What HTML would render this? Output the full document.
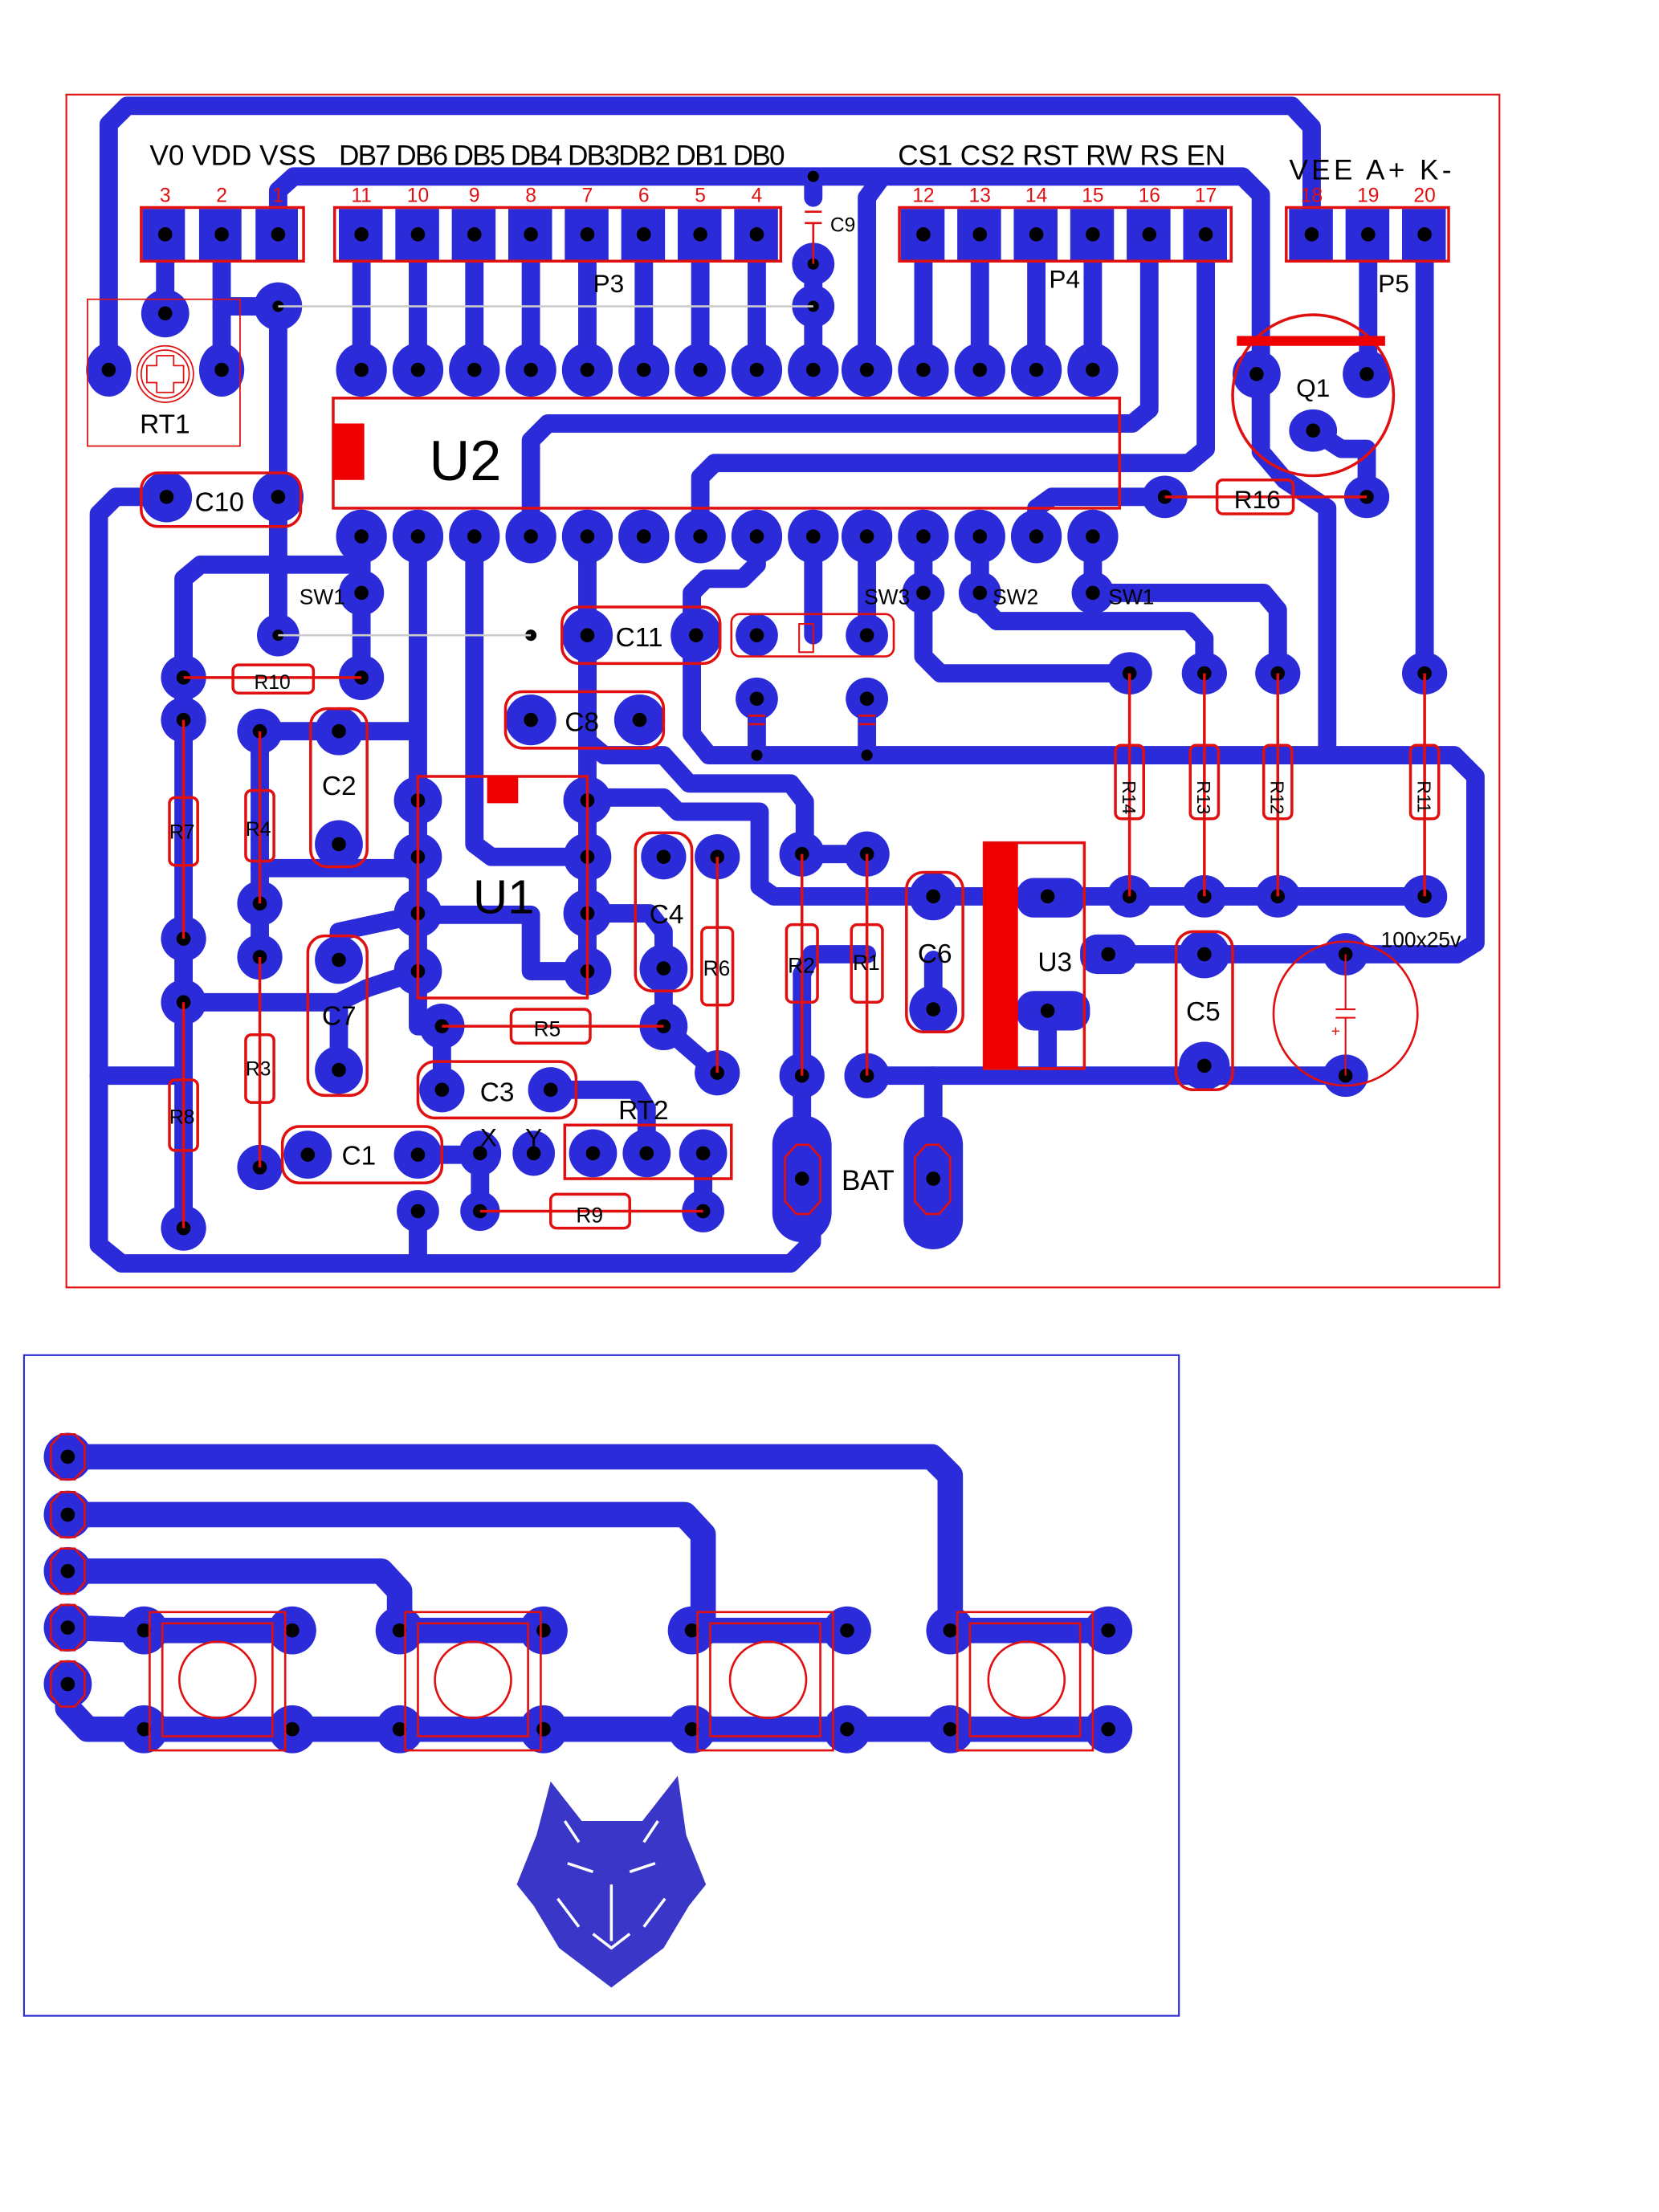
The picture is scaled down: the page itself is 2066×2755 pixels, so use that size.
<!DOCTYPE html>
<html><head><meta charset="utf-8"><style>
html,body{margin:0;padding:0;background:#fff}
svg{display:block}
text{font-family:"Liberation Sans",sans-serif}
</style></head><body>
<svg width="2066" height="2755" viewBox="0 0 1175 1567" preserveAspectRatio="none" xmlns="http://www.w3.org/2000/svg">
<rect x="0" y="0" width="1175" height="1567" fill="#fff"/>
<rect x="47" y="67" width="1015" height="845" fill="none" stroke="#e01010" stroke-width="1.2"/>
<rect x="17" y="960" width="818" height="468" fill="none" stroke="#2a2ad0" stroke-width="1.2"/>

<g fill="none" stroke="#2b2bd9" stroke-width="13" stroke-linejoin="round" stroke-linecap="round">
 <polyline points="77,262 77,88 90,75 915,75 929,90 929,165"/>
 <polyline points="197,165 197,135 208,125 880,125 893,138 893,320 910,340 940,360 940,535"/>
 <polyline points="614,262 614,140 625,125"/>
 <polyline points="576,125 576,140"/>
 <polyline points="117,165 117,222"/>
 <polyline points="157,165 157,262"/>
 <polyline points="197,217 197,450"/>
 <polyline points="157,217 197,217"/>
 <polyline points="256,165 256,262"/><polyline points="296,165 296,262"/><polyline points="336,165 336,262"/><polyline points="376,165 376,262"/>
 <polyline points="416,165 416,262"/><polyline points="456,165 456,262"/><polyline points="496,165 496,262"/><polyline points="536,165 536,262"/>
 <polyline points="576,187 576,262"/>
 <polyline points="654,165 654,262"/><polyline points="694,165 694,262"/><polyline points="734,165 734,262"/><polyline points="774,165 774,262"/>
 <polyline points="814,165 814,290 802,300 388,300 376,312 376,380"/>
 <polyline points="854,165 854,318 842,328 506,328 496,338 496,380"/>
 <polyline points="969,165 969,265"/>
 <polyline points="1009,165 1009,477"/>
 <polyline points="930,305 950,318 968,318 968,352"/>
 <polyline points="734,380 734,360 745,352 825,352"/>
 <polyline points="118,352 82,352 70,364 70,882 86,895 560,895 575,880 575,800"/>
 <polyline points="296,858 296,895"/>
 <polyline points="130,480 130,410 142,400 256,400"/>
 <polyline points="256,380 256,480"/>
 <polyline points="130,480 130,870"/>
 <polyline points="70,762 130,762"/>
 <polyline points="130,710 240,710"/>
 <polyline points="296,380 296,607"/>
 <polyline points="184,518 290,518"/>
 <polyline points="336,380 336,598 348,607 416,607"/>
 <polyline points="416,380 416,525 428,535 470,535 488,555 560,555 570,568 570,605"/>
 <polyline points="536,380 536,400 526,410 500,410 490,420 490,520 502,535 1030,535 1045,550 1045,668 1032,676 785,676"/>
 <polyline points="576,380 576,450"/>
 <polyline points="614,380 614,450"/>
 <polyline points="654,380 654,465 666,477 800,477"/>
 <polyline points="694,380 694,428 706,440 842,440 853,452 853,477"/>
 <polyline points="774,380 774,420 895,420 905,432 905,477"/>
 <polyline points="536,495 536,535"/><polyline points="614,495 614,535"/>
 <polyline points="416,450 416,565"/>
 <polyline points="742,635 1009,635"/>
 <polyline points="661,635 742,635"/>
 <polyline points="416,565 470,565 480,575 538,575 538,628 548,635 661,635"/>
 <polyline points="568,605 614,605"/>
 <polyline points="742,716 742,757"/>
 <polyline points="614,762 953,762"/>
 <polyline points="661,762 661,790"/>
 <polyline points="568,690 568,835"/>
 <polyline points="568,690 575,676 614,676"/>
 <polyline points="661,715 661,680"/>
 <polyline points="184,518 184,678"/>
 <polyline points="184,615 296,615"/>
 <polyline points="240,680 240,660 296,648"/>
 <polyline points="296,648 376,648 376,688 416,688"/>
 <polyline points="416,647 460,647 470,660 470,727"/>
 <polyline points="470,727 508,760"/>
 <polyline points="296,688 260,700 240,710 240,758"/>
 <polyline points="296,688 296,727 313,727"/>
 <polyline points="313,727 313,772"/>
 <polyline points="390,772 450,772 458,785 458,817"/>
 <polyline points="296,818 340,818 340,858"/>
 <polyline points="498,817 498,858"/>
 <polyline points="416,567 416,688"/>
 <polyline points="296,567 296,700"/>
</g>
<g fill="#2b2bd9">
 <rect x="547" y="790" width="42" height="90" rx="21"/>
 <rect x="640" y="790" width="42" height="95" rx="21"/>
 <rect x="720" y="622" width="48" height="28" rx="12"/>
 <rect x="720" y="702" width="52" height="28" rx="12"/>
 <rect x="765" y="662" width="40" height="28" rx="12"/>
</g>
<g fill="#2b2bd9">
 <rect x="101" y="148" width="30" height="36"/><rect x="141" y="148" width="30" height="36"/><rect x="181" y="148" width="30" height="36"/>
 <rect x="240" y="148" width="31" height="36"/><rect x="280" y="148" width="31" height="36"/><rect x="320" y="148" width="31" height="36"/><rect x="360" y="148" width="31" height="36"/>
 <rect x="400" y="148" width="31" height="36"/><rect x="440" y="148" width="31" height="36"/><rect x="480" y="148" width="31" height="36"/><rect x="520" y="148" width="31" height="36"/>
 <rect x="638" y="148" width="31" height="36"/><rect x="678" y="148" width="31" height="36"/><rect x="718" y="148" width="31" height="36"/><rect x="758" y="148" width="31" height="36"/><rect x="798" y="148" width="31" height="36"/><rect x="838" y="148" width="31" height="36"/>
 <rect x="913" y="148" width="31" height="36"/><rect x="953" y="148" width="31" height="36"/><rect x="993" y="148" width="31" height="36"/>
</g>
<g fill="#2b2bd9">
 <ellipse cx="117" cy="222" rx="17" ry="17"/><ellipse cx="77" cy="262" rx="16" ry="19"/><ellipse cx="157" cy="262" rx="16" ry="19"/>
 <ellipse cx="197" cy="217" rx="17" ry="17"/><ellipse cx="576" cy="187" rx="15" ry="15"/><ellipse cx="576" cy="217" rx="15" ry="15"/>
 <g id="row1">
 <ellipse cx="256" cy="262" rx="18" ry="19"/><ellipse cx="296" cy="262" rx="18" ry="19"/><ellipse cx="336" cy="262" rx="18" ry="19"/><ellipse cx="376" cy="262" rx="18" ry="19"/>
 <ellipse cx="416" cy="262" rx="18" ry="19"/><ellipse cx="456" cy="262" rx="18" ry="19"/><ellipse cx="496" cy="262" rx="18" ry="19"/><ellipse cx="536" cy="262" rx="18" ry="19"/>
 <ellipse cx="576" cy="262" rx="18" ry="19"/><ellipse cx="614" cy="262" rx="18" ry="19"/><ellipse cx="654" cy="262" rx="18" ry="19"/><ellipse cx="694" cy="262" rx="18" ry="19"/>
 <ellipse cx="734" cy="262" rx="18" ry="19"/><ellipse cx="774" cy="262" rx="18" ry="19"/>
 </g>
 <use href="#row1" y="118"/>
 <ellipse cx="890" cy="265" rx="17" ry="17"/><ellipse cx="968" cy="265" rx="17" ry="17"/><ellipse cx="930" cy="305" rx="17" ry="15"/>
 <ellipse cx="825" cy="352" rx="16" ry="15"/><ellipse cx="968" cy="352" rx="16" ry="15"/>
 <ellipse cx="118" cy="352" rx="18" ry="18"/><ellipse cx="197" cy="352" rx="18" ry="18"/>
 <ellipse cx="256" cy="420" rx="16" ry="16"/><ellipse cx="654" cy="420" rx="15" ry="15"/><ellipse cx="694" cy="420" rx="15" ry="15"/><ellipse cx="774" cy="420" rx="15" ry="15"/>
 <ellipse cx="197" cy="450" rx="15" ry="15"/>
 <ellipse cx="416" cy="450" rx="18" ry="19"/><ellipse cx="493" cy="450" rx="18" ry="19"/>
 <ellipse cx="536" cy="450" rx="15" ry="15"/><ellipse cx="614" cy="450" rx="15" ry="15"/><ellipse cx="536" cy="495" rx="15" ry="15"/><ellipse cx="614" cy="495" rx="15" ry="15"/>
 <ellipse cx="376" cy="510" rx="18" ry="18"/><ellipse cx="453" cy="510" rx="18" ry="18"/>
 <ellipse cx="130" cy="480" rx="16" ry="16"/><ellipse cx="130" cy="510" rx="16" ry="16"/><ellipse cx="256" cy="480" rx="16" ry="16"/>
 <ellipse cx="800" cy="477" rx="16" ry="15"/><ellipse cx="853" cy="477" rx="16" ry="15"/><ellipse cx="905" cy="477" rx="16" ry="15"/><ellipse cx="1009" cy="477" rx="16" ry="15"/>
 <ellipse cx="184" cy="518" rx="16" ry="16"/><ellipse cx="240" cy="518" rx="17" ry="17"/><ellipse cx="240" cy="598" rx="17" ry="17"/>
 <ellipse cx="296" cy="567" rx="17" ry="17"/><ellipse cx="296" cy="607" rx="17" ry="17"/><ellipse cx="296" cy="647" rx="17" ry="17"/><ellipse cx="296" cy="688" rx="17" ry="17"/>
 <ellipse cx="416" cy="567" rx="17" ry="17"/><ellipse cx="416" cy="607" rx="17" ry="17"/><ellipse cx="416" cy="647" rx="17" ry="17"/><ellipse cx="416" cy="688" rx="17" ry="17"/>
 <ellipse cx="470" cy="607" rx="16" ry="16"/><ellipse cx="508" cy="607" rx="16" ry="16"/><ellipse cx="470" cy="686" rx="17" ry="17"/><ellipse cx="470" cy="727" rx="17" ry="17"/><ellipse cx="508" cy="760" rx="16" ry="16"/>
 <ellipse cx="568" cy="605" rx="16" ry="16"/><ellipse cx="614" cy="605" rx="16" ry="16"/>
 <ellipse cx="661" cy="635" rx="17" ry="17"/><ellipse cx="661" cy="715" rx="17" ry="17"/>
 <ellipse cx="800" cy="635" rx="16" ry="15"/><ellipse cx="853" cy="635" rx="16" ry="15"/><ellipse cx="905" cy="635" rx="16" ry="15"/><ellipse cx="1009" cy="635" rx="16" ry="15"/>
 <ellipse cx="853" cy="676" rx="18" ry="17"/><ellipse cx="853" cy="755" rx="18" ry="17"/><ellipse cx="953" cy="676" rx="16" ry="15"/><ellipse cx="953" cy="762" rx="16" ry="15"/>
 <ellipse cx="568" cy="762" rx="16" ry="16"/><ellipse cx="614" cy="762" rx="16" ry="16"/>
 <ellipse cx="130" cy="665" rx="16" ry="16"/><ellipse cx="130" cy="710" rx="16" ry="16"/><ellipse cx="130" cy="870" rx="16" ry="16"/>
 <ellipse cx="184" cy="640" rx="16" ry="16"/><ellipse cx="184" cy="678" rx="16" ry="16"/><ellipse cx="184" cy="827" rx="16" ry="16"/>
 <ellipse cx="240" cy="680" rx="17" ry="17"/><ellipse cx="240" cy="758" rx="17" ry="17"/>
 <ellipse cx="313" cy="727" rx="16" ry="16"/><ellipse cx="313" cy="772" rx="16" ry="16"/><ellipse cx="390" cy="772" rx="16" ry="16"/>
 <ellipse cx="218" cy="818" rx="17" ry="17"/><ellipse cx="296" cy="818" rx="17" ry="17"/>
 <ellipse cx="340" cy="817" rx="15" ry="16"/><ellipse cx="378" cy="817" rx="15" ry="16"/>
 <ellipse cx="420" cy="817" rx="17" ry="17"/><ellipse cx="458" cy="817" rx="17" ry="17"/><ellipse cx="498" cy="817" rx="17" ry="17"/>
 <ellipse cx="340" cy="858" rx="14" ry="14"/><ellipse cx="498" cy="858" rx="15" ry="15"/><ellipse cx="296" cy="858" rx="15" ry="15"/>
</g>
<g fill="#000">
 <circle cx="117" cy="166" r="5"/><circle cx="157" cy="166" r="5"/><circle cx="197" cy="166" r="5"/>
 <circle cx="256" cy="166" r="5"/><circle cx="296" cy="166" r="5"/><circle cx="336" cy="166" r="5"/><circle cx="376" cy="166" r="5"/><circle cx="416" cy="166" r="5"/><circle cx="456" cy="166" r="5"/><circle cx="496" cy="166" r="5"/><circle cx="536" cy="166" r="5"/>
 <circle cx="654" cy="166" r="5"/><circle cx="694" cy="166" r="5"/><circle cx="734" cy="166" r="5"/><circle cx="774" cy="166" r="5"/><circle cx="814" cy="166" r="5"/><circle cx="854" cy="166" r="5"/>
 <circle cx="929" cy="166" r="5"/><circle cx="969" cy="166" r="5"/><circle cx="1009" cy="166" r="5"/>
 <circle cx="117" cy="222" r="5"/><circle cx="77" cy="262" r="5"/><circle cx="157" cy="262" r="5"/><circle cx="197" cy="217" r="4"/><circle cx="576" cy="125" r="4"/><circle cx="576" cy="187" r="4"/><circle cx="576" cy="217" r="4"/>
 <g id="dr1"><circle cx="256" cy="262" r="5"/><circle cx="296" cy="262" r="5"/><circle cx="336" cy="262" r="5"/><circle cx="376" cy="262" r="5"/><circle cx="416" cy="262" r="5"/><circle cx="456" cy="262" r="5"/><circle cx="496" cy="262" r="5"/><circle cx="536" cy="262" r="5"/><circle cx="576" cy="262" r="5"/><circle cx="614" cy="262" r="5"/><circle cx="654" cy="262" r="5"/><circle cx="694" cy="262" r="5"/><circle cx="734" cy="262" r="5"/><circle cx="774" cy="262" r="5"/></g>
 <use href="#dr1" y="118"/>
 <circle cx="890" cy="265" r="5"/><circle cx="968" cy="265" r="5"/><circle cx="930" cy="305" r="5"/><circle cx="825" cy="352" r="5"/><circle cx="968" cy="352" r="5"/>
 <circle cx="118" cy="352" r="5"/><circle cx="197" cy="352" r="5"/><circle cx="256" cy="420" r="5"/><circle cx="654" cy="420" r="5"/><circle cx="694" cy="420" r="5"/><circle cx="774" cy="420" r="5"/><circle cx="197" cy="450" r="4"/><circle cx="376" cy="450" r="4"/>
 <circle cx="416" cy="450" r="5"/><circle cx="493" cy="450" r="5"/><circle cx="536" cy="450" r="5"/><circle cx="614" cy="450" r="5"/><circle cx="536" cy="495" r="5"/><circle cx="614" cy="495" r="5"/><circle cx="536" cy="535" r="4"/><circle cx="614" cy="535" r="4"/>
 <circle cx="376" cy="510" r="5"/><circle cx="453" cy="510" r="5"/><circle cx="130" cy="480" r="5"/><circle cx="130" cy="510" r="5"/><circle cx="256" cy="480" r="5"/>
 <circle cx="800" cy="477" r="5"/><circle cx="853" cy="477" r="5"/><circle cx="905" cy="477" r="5"/><circle cx="1009" cy="477" r="5"/>
 <circle cx="184" cy="518" r="5"/><circle cx="240" cy="518" r="5"/><circle cx="240" cy="598" r="5"/>
 <circle cx="296" cy="567" r="5"/><circle cx="296" cy="607" r="5"/><circle cx="296" cy="647" r="5"/><circle cx="296" cy="688" r="5"/><circle cx="416" cy="567" r="5"/><circle cx="416" cy="607" r="5"/><circle cx="416" cy="647" r="5"/><circle cx="416" cy="688" r="5"/>
 <circle cx="470" cy="607" r="5"/><circle cx="508" cy="607" r="5"/><circle cx="470" cy="686" r="5"/><circle cx="470" cy="727" r="5"/><circle cx="508" cy="760" r="5"/>
 <circle cx="568" cy="605" r="5"/><circle cx="614" cy="605" r="5"/><circle cx="661" cy="635" r="5"/><circle cx="661" cy="715" r="5"/>
 <circle cx="742" cy="635" r="5"/><circle cx="785" cy="676" r="5"/><circle cx="742" cy="716" r="5"/>
 <circle cx="800" cy="635" r="5"/><circle cx="853" cy="635" r="5"/><circle cx="905" cy="635" r="5"/><circle cx="1009" cy="635" r="5"/>
 <circle cx="853" cy="676" r="5"/><circle cx="853" cy="755" r="5"/><circle cx="953" cy="676" r="5"/><circle cx="953" cy="762" r="5"/>
 <circle cx="568" cy="762" r="5"/><circle cx="614" cy="762" r="5"/><circle cx="568" cy="835" r="5"/><circle cx="661" cy="835" r="5"/>
 <circle cx="130" cy="665" r="5"/><circle cx="130" cy="710" r="5"/><circle cx="130" cy="870" r="5"/><circle cx="184" cy="640" r="5"/><circle cx="184" cy="678" r="5"/><circle cx="184" cy="827" r="5"/>
 <circle cx="240" cy="680" r="5"/><circle cx="240" cy="758" r="5"/><circle cx="313" cy="727" r="5"/><circle cx="313" cy="772" r="5"/><circle cx="390" cy="772" r="5"/>
 <circle cx="218" cy="818" r="5"/><circle cx="296" cy="818" r="5"/><circle cx="340" cy="817" r="5"/><circle cx="378" cy="817" r="5"/><circle cx="420" cy="817" r="5"/><circle cx="458" cy="817" r="5"/><circle cx="498" cy="817" r="5"/>
 <circle cx="340" cy="858" r="5"/><circle cx="498" cy="858" r="5"/><circle cx="296" cy="858" r="5"/>
</g>
<g stroke="#ccc" stroke-width="1.5"><line x1="197" y1="217" x2="576" y2="217"/><line x1="197" y1="450" x2="376" y2="450"/></g>

<g fill="none" stroke="#e01010" stroke-width="2">
 <rect x="100" y="147" width="115" height="38"/><rect x="237" y="147" width="316" height="38"/><rect x="637" y="147" width="235" height="38"/><rect x="911" y="147" width="115" height="38"/>
 <rect x="236" y="282" width="557" height="78"/>
 <circle cx="930" cy="280" r="57"/>
 <rect x="296" y="550" width="120" height="157"/>
 <rect x="697" y="597" width="71" height="160"/>
 <rect x="400" y="797" width="118" height="38"/>
 <circle cx="953" cy="718" r="51" stroke-width="1.5"/>
 <rect x="518" y="435" width="115" height="30" rx="6" stroke-width="1.5"/>
 <line x1="130" y1="510" x2="130" y2="665"/><rect x="120" y="565" width="20" height="48" rx="4"/>
 <line x1="130" y1="710" x2="130" y2="870"/><rect x="120" y="765" width="20" height="50" rx="4"/>
 <line x1="184" y1="518" x2="184" y2="640"/><rect x="174" y="560" width="20" height="50" rx="4"/>
 <line x1="184" y1="678" x2="184" y2="827"/><rect x="174" y="733" width="20" height="48" rx="4"/>
 <line x1="130" y1="480" x2="256" y2="480"/><rect x="165" y="471" width="57" height="20" rx="4"/>
 <line x1="825" y1="352" x2="968" y2="352"/><rect x="862" y="340" width="54" height="24" rx="4"/>
 <line x1="800" y1="477" x2="800" y2="635"/><rect x="790" y="528" width="20" height="52" rx="4"/>
 <line x1="853" y1="477" x2="853" y2="635"/><rect x="843" y="528" width="20" height="52" rx="4"/>
 <line x1="905" y1="477" x2="905" y2="635"/><rect x="895" y="528" width="20" height="52" rx="4"/>
 <line x1="1009" y1="477" x2="1009" y2="635"/><rect x="999" y="528" width="20" height="52" rx="4"/>
 <line x1="508" y1="607" x2="508" y2="760"/><rect x="497" y="657" width="22" height="55" rx="4"/>
 <line x1="568" y1="605" x2="568" y2="762"/><rect x="557" y="655" width="22" height="55" rx="4"/>
 <line x1="614" y1="605" x2="614" y2="762"/><rect x="603" y="655" width="22" height="55" rx="4"/>
 <line x1="313" y1="727" x2="470" y2="727"/><rect x="362" y="715" width="56" height="24" rx="4"/>
 <line x1="340" y1="858" x2="498" y2="858"/><rect x="390" y="846" width="56" height="24" rx="4"/>
 <rect x="100" y="335" width="113" height="38" rx="12"/>
 <rect x="398" y="430" width="112" height="40" rx="12"/>
 <rect x="358" y="490" width="112" height="40" rx="12"/>
 <rect x="220" y="502" width="40" height="112" rx="12"/>
 <rect x="218" y="663" width="42" height="113" rx="12"/>
 <rect x="450" y="590" width="40" height="112" rx="12"/>
 <rect x="642" y="618" width="40" height="113" rx="12"/>
 <rect x="833" y="660" width="40" height="112" rx="12"/>
 <rect x="200" y="798" width="113" height="40" rx="12"/>
 <rect x="296" y="752" width="112" height="40" rx="12"/>
 <rect x="62" y="212" width="108" height="104" stroke-width="1"/>
 <circle cx="117" cy="265" r="20" stroke-width="1"/><circle cx="117" cy="265" r="17" stroke-width="1"/>
 <path d="M111 252h12v7h7v12h-7v7h-12v-7h-7v-12h7z" stroke-width="1"/>
 <path d="M570 150h12M570 158h12M576 158v29" stroke-width="1.5"/>
 <path d="M530 507h12M608 507h12M530 513h12M608 513h12" stroke-width="1.5"/>
 <path d="M946 715h14M946 721h14M953 676v39M953 721v41" stroke-width="1.2"/>
 <rect x="566" y="442" width="10" height="20" stroke-width="1.2"/>
 <path d="M556 820l8-9h9l8 9v31l-8 9h-9l-8-9z" stroke-width="1.5"/>
 <path d="M648 820l8-9h9l8 9v31l-8 9h-9l-8-9z" stroke-width="1.5"/>
</g>
<g fill="#ee0000">
 <rect x="236" y="300" width="22" height="40"/>
 <rect x="345" y="550" width="22" height="19"/>
 <rect x="697" y="597" width="24" height="160"/>
 <rect x="876" y="238" width="105" height="7"/>
</g>
<g fill="#000" font-size="20">
 <text x="106" y="117">V0 VDD VSS</text>
 <text x="240" y="117" textLength="316">DB7 DB6 DB5 DB4 DB3DB2 DB1 DB0</text>
 <text x="636" y="117" textLength="232">CS1 CS2 RST RW RS EN</text>
 <text x="913" y="127" textLength="115">VEE  A+  K-</text>
 <text x="420" y="207" font-size="18">P3</text><text x="743" y="204" font-size="18">P4</text><text x="976" y="207" font-size="18">P5</text>
 <text x="99" y="307" font-size="19">RT1</text>
 <text x="138" y="362" font-size="19">C10</text>
 <text x="304" y="340" font-size="40">U2</text>
 <text x="918" y="281" font-size="18">Q1</text>
 <text x="874" y="360" font-size="18">R16</text>
 <text x="212" y="428" font-size="15">SW1</text><text x="612" y="428" font-size="15">SW3</text><text x="703" y="428" font-size="15">SW2</text><text x="785" y="428" font-size="15">SW1</text>
 <text x="436" y="458" font-size="19">C11</text><text x="400" y="518" font-size="19">C8</text>
 <text x="180" y="488" font-size="14">R10</text>
 <text x="228" y="563" font-size="19">C2</text><text x="228" y="726" font-size="19">C7</text>
 <text x="120" y="594" font-size="14">R7</text><text x="174" y="592" font-size="14">R4</text><text x="174" y="762" font-size="14">R3</text><text x="120" y="796" font-size="14">R8</text>
 <text x="335" y="647" font-size="34">U1</text>
 <text x="460" y="654" font-size="19">C4</text><text x="498" y="691" font-size="15">R6</text>
 <text x="558" y="689" font-size="15">R2</text><text x="604" y="687" font-size="15">R1</text>
 <text x="650" y="682" font-size="19">C6</text><text x="735" y="688" font-size="19">U3</text><text x="840" y="723" font-size="19">C5</text>
 <text x="978" y="671" font-size="15">100x25v</text>
 <text x="588" y="164" font-size="14">C9</text>
 <text x="378" y="734" font-size="15">R5</text><text x="340" y="780" font-size="19">C3</text><text x="408" y="866" font-size="15">R9</text>
 <text x="242" y="825" font-size="19">C1</text><text x="340" y="812" font-size="18">X</text><text x="372" y="812" font-size="18">Y</text>
 <text x="438" y="793" font-size="19">RT2</text>
 <text x="596" y="843" font-size="20">BAT</text>
 <g transform="translate(795,553) rotate(90)"><text font-size="13">R14</text></g>
 <g transform="translate(848,553) rotate(90)"><text font-size="13">R13</text></g>
 <g transform="translate(900,553) rotate(90)"><text font-size="13">R12</text></g>
 <g transform="translate(1004,553) rotate(90)"><text font-size="13">R11</text></g>
</g>
<g fill="#e01010" font-size="14" text-anchor="middle">
 <text x="117" y="143">3</text><text x="157" y="143">2</text><text x="197" y="143">1</text>
 <text x="256" y="143">11</text><text x="296" y="143">10</text><text x="336" y="143">9</text><text x="376" y="143">8</text><text x="416" y="143">7</text><text x="456" y="143">6</text><text x="496" y="143">5</text><text x="536" y="143">4</text>
 <text x="654" y="143">12</text><text x="694" y="143">13</text><text x="734" y="143">14</text><text x="774" y="143">15</text><text x="814" y="143">16</text><text x="854" y="143">17</text>
 <text x="929" y="143">18</text><text x="969" y="143">19</text><text x="1009" y="143">20</text>
 <text x="946" y="734" font-size="11">+</text>
</g>

<g fill="none" stroke="#2b2bd9" stroke-width="18" stroke-linejoin="round">
 <polyline points="48,1032 660,1032 673,1045 673,1155"/>
 <polyline points="48,1073 485,1073 498,1087 498,1155"/>
 <polyline points="48,1113 270,1113 283,1127 283,1155"/>
 <polyline points="48,1153 102,1155 207,1155"/>
 <polyline points="283,1155 385,1155"/><polyline points="498,1155 600,1155"/><polyline points="673,1155 785,1155"/>
 <polyline points="48,1193 48,1210 62,1225 785,1225"/>
</g>
<g fill="#2b2bd9">
 <circle cx="48" cy="1032" r="17"/><circle cx="48" cy="1073" r="17"/><circle cx="48" cy="1113" r="17"/><circle cx="48" cy="1153" r="17"/><circle cx="48" cy="1193" r="17"/>
 <circle cx="102" cy="1155" r="17"/><circle cx="207" cy="1155" r="17"/><circle cx="102" cy="1225" r="17"/><circle cx="207" cy="1225" r="17"/>
 <circle cx="283" cy="1155" r="17"/><circle cx="385" cy="1155" r="17"/><circle cx="283" cy="1225" r="17"/><circle cx="385" cy="1225" r="17"/>
 <circle cx="490" cy="1155" r="17"/><circle cx="600" cy="1155" r="17"/><circle cx="490" cy="1225" r="17"/><circle cx="600" cy="1225" r="17"/>
 <circle cx="673" cy="1155" r="17"/><circle cx="785" cy="1155" r="17"/><circle cx="673" cy="1225" r="17"/><circle cx="785" cy="1225" r="17"/>
</g>
<g fill="#000">
 <circle cx="48" cy="1032" r="5"/><circle cx="48" cy="1073" r="5"/><circle cx="48" cy="1113" r="5"/><circle cx="48" cy="1153" r="5"/><circle cx="48" cy="1193" r="5"/>
 <circle cx="102" cy="1155" r="5"/><circle cx="207" cy="1155" r="5"/><circle cx="102" cy="1225" r="5"/><circle cx="207" cy="1225" r="5"/>
 <circle cx="283" cy="1155" r="5"/><circle cx="385" cy="1155" r="5"/><circle cx="283" cy="1225" r="5"/><circle cx="385" cy="1225" r="5"/>
 <circle cx="490" cy="1155" r="5"/><circle cx="600" cy="1155" r="5"/><circle cx="490" cy="1225" r="5"/><circle cx="600" cy="1225" r="5"/>
 <circle cx="673" cy="1155" r="5"/><circle cx="785" cy="1155" r="5"/><circle cx="673" cy="1225" r="5"/><circle cx="785" cy="1225" r="5"/>
</g>
<g fill="none" stroke="#e01010" stroke-width="1.5">
 <path d="M36 1024l7-8h10l7 8v16l-7 8h-10l-7-8z"/><path d="M36 1065l7-8h10l7 8v16l-7 8h-10l-7-8z"/><path d="M36 1105l7-8h10l7 8v16l-7 8h-10l-7-8z"/><path d="M36 1145l7-8h10l7 8v16l-7 8h-10l-7-8z"/><path d="M36 1185l7-8h10l7 8v16l-7 8h-10l-7-8z"/>
 <rect x="106" y="1142" width="96" height="98"/><rect x="115" y="1150" width="78" height="80"/><circle cx="154" cy="1190" r="27"/>
 <rect x="287" y="1142" width="96" height="98"/><rect x="296" y="1150" width="78" height="80"/><circle cx="335" cy="1190" r="27"/>
 <rect x="494" y="1142" width="96" height="98"/><rect x="503" y="1150" width="78" height="80"/><circle cx="544" cy="1190" r="27"/>
 <rect x="678" y="1142" width="96" height="98"/><rect x="687" y="1150" width="78" height="80"/><circle cx="727" cy="1190" r="27"/>
</g>
<g fill="#3a36c8">
 <path d="M390 1262 L412 1290 L455 1290 L480 1258 L486 1300 L500 1335 L488 1350 L470 1380 L433 1408 L396 1380 L378 1350 L366 1335 L380 1300 Z"/>
</g>
<g fill="none" stroke="#fff" stroke-width="2">
 <path d="M402 1320 l18 6 M464 1320 l-18 6 M433 1335 v40 M420 1370 l13 10 l13 -10 M395 1345 l15 20 M471 1345 l-15 20 M400 1290 l10 15 M466 1290 l-10 15"/>
</g>
</svg>
</body></html>
